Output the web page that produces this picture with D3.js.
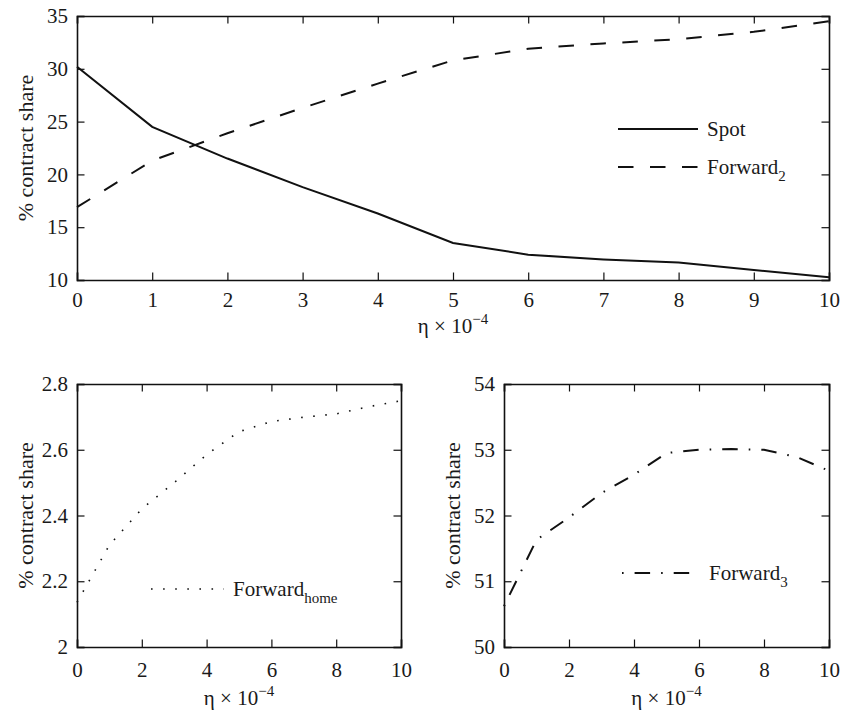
<!DOCTYPE html>
<html>
<head>
<meta charset="utf-8">
<script src="https://cdn.jsdelivr.net/npm/d3@7"></script>
<style>
  body { margin: 0; background: #fff; }
</style>
</head>
<body>
<script>
// eta x 10^-4
var eta = [0, 1, 2, 3, 4, 5, 6, 7, 8, 9, 10];
// % contract share
var spot     = [30.2, 24.5, 21.5, 18.8, 16.3, 13.5, 12.4, 11.95, 11.65, 10.95, 10.25];
var forward2 = [16.9, 21.3, 23.9, 26.3, 28.6, 30.8, 31.9, 32.4, 32.8, 33.5, 34.5];
var forwardHome = [2.136, 2.31, 2.42, 2.50, 2.585, 2.655, 2.686, 2.699, 2.709, 2.731, 2.749];
var forward3 = [50.62, 51.63, 51.97, 52.34, 52.62, 52.95, 53.0, 53.01, 53.0, 52.89, 52.68];

var topXTicks = [0, 1, 2, 3, 4, 5, 6, 7, 8, 9, 10];
var topYTicks = [10, 15, 20, 25, 30, 35];
var botXTicks = [0, 2, 4, 6, 8, 10];
var homeYTicks = [2, 2.2, 2.4, 2.6, 2.8];
var fwd3YTicks = [50, 51, 52, 53, 54];

var svg = d3.select("body").append("svg")
    .attr("width", 854)
    .attr("height", 715)
    .attr("font-family", "Liberation Serif");

var line_styles = {
  solid: null,
  dashed: "15.5,16.5",
  dotted: "1.6,10.5",
  dashdot: "1.6,11,15.5,11"
};

function txt(sel, size) {
  return sel.attr("font-family", "Liberation Serif")
    .style("font-family", "'Liberation Serif'")
    .attr("font-size", size)
    .attr("fill", "#1a1a1a");
}

function panel(box, yDomain, xTicks, yTicks, yFmt) {
  var x = d3.scaleLinear().domain([0, 10]).range([box.left, box.right]);
  var y = d3.scaleLinear().domain(yDomain).range([box.bottom, box.top]);
  var g = svg.append("g");

  // matlab style inward ticks on all four sides
  var tl = 7.5;
  g.append("g").attr("transform", "translate(0," + box.bottom + ")")
    .call(d3.axisBottom(x).tickValues(xTicks).tickSize(-tl).tickPadding(box.xpad).tickFormat(d3.format("d")));
  g.append("g").attr("transform", "translate(0," + box.top + ")")
    .call(d3.axisTop(x).tickValues(xTicks).tickSize(-tl).tickFormat(""));
  g.append("g").attr("transform", "translate(" + box.left + ",0)")
    .call(d3.axisLeft(y).tickValues(yTicks).tickSize(-tl).tickPadding(9).tickFormat(yFmt));
  g.append("g").attr("transform", "translate(" + box.right + ",0)")
    .call(d3.axisRight(y).tickValues(yTicks).tickSize(-tl).tickFormat(""));

  g.selectAll("g").attr("font-family", "Liberation Serif");
  g.selectAll(".domain").attr("stroke", "#111").attr("stroke-width", 1.6);
  g.selectAll(".tick line").attr("stroke", "#111").attr("stroke-width", 1.2);
  txt(g.selectAll(".tick text"), 21);

  // y label
  txt(svg.append("text"), 22)
    .attr("transform", "translate(" + (box.left - 44) + "," + ((box.top + box.bottom) / 2) + ") rotate(-90)")
    .attr("text-anchor", "middle")
    .text("% contract share");

  // x label: eta x 10^-4
  var xl = txt(svg.append("text"), 21)
    .attr("x", (box.left + box.right) / 2)
    .attr("y", box.bottom + box.xlab)
    .attr("text-anchor", "middle");
  xl.append("tspan").text("η × 10");
  xl.append("tspan").attr("dy", -9).attr("font-size", 15).text("−4");

  return {x: x, y: y};
}

function drawLine(p, values, style) {
  var line = d3.line()
    .x(function(d, i) { return p.x(eta[i]); })
    .y(function(d) { return p.y(d); });
  svg.append("path")
    .datum(values)
    .attr("d", line)
    .attr("fill", "none")
    .attr("stroke", "#111")
    .attr("stroke-width", style == "dotted" ? 1.6 : 2)
    .attr("stroke-dasharray", line_styles[style]);
}

function legendItem(x1, x2, yy, style, name, sub) {
  svg.append("line")
    .attr("x1", x1).attr("x2", x2).attr("y1", yy).attr("y2", yy)
    .attr("stroke", "#111")
    .attr("stroke-width", style == "dotted" ? 1.6 : 2)
    .attr("stroke-dasharray", line_styles[style]);
  var t = txt(svg.append("text"), 21)
    .attr("x", x2 + 9)
    .attr("y", yy + 7)
    .text(name);
  if (sub) {
    t.append("tspan").attr("dy", 7).attr("font-size", 15).text(sub);
  }
}

// top panel
var pTop = panel({left: 77, right: 829, top: 16, bottom: 280, xpad: 12, xlab: 53}, [10, 35], topXTicks, topYTicks, d3.format("d"));
drawLine(pTop, spot, "solid");
drawLine(pTop, forward2, "dashed");
legendItem(618, 698, 129, "solid", "Spot");
legendItem(618, 698, 167, "dashed", "Forward", "2");

// bottom left
var pHome = panel({left: 77, right: 401, top: 384, bottom: 647, xpad: 15, xlab: 58}, [2, 2.8], botXTicks, homeYTicks, function(d) { return d == 2 ? "2" : d3.format(".1f")(d); });
drawLine(pHome, forwardHome, "dotted");
legendItem(151, 224, 589, "dotted", "Forward", "home");

// bottom right
var pF3 = panel({left: 504, right: 829, top: 384, bottom: 647, xpad: 15, xlab: 58}, [50, 54], botXTicks, fwd3YTicks, d3.format("d"));
drawLine(pF3, forward3, "dashdot");
legendItem(622, 700, 573, "dashdot", "Forward", "3");
</script>
</body>
</html>
